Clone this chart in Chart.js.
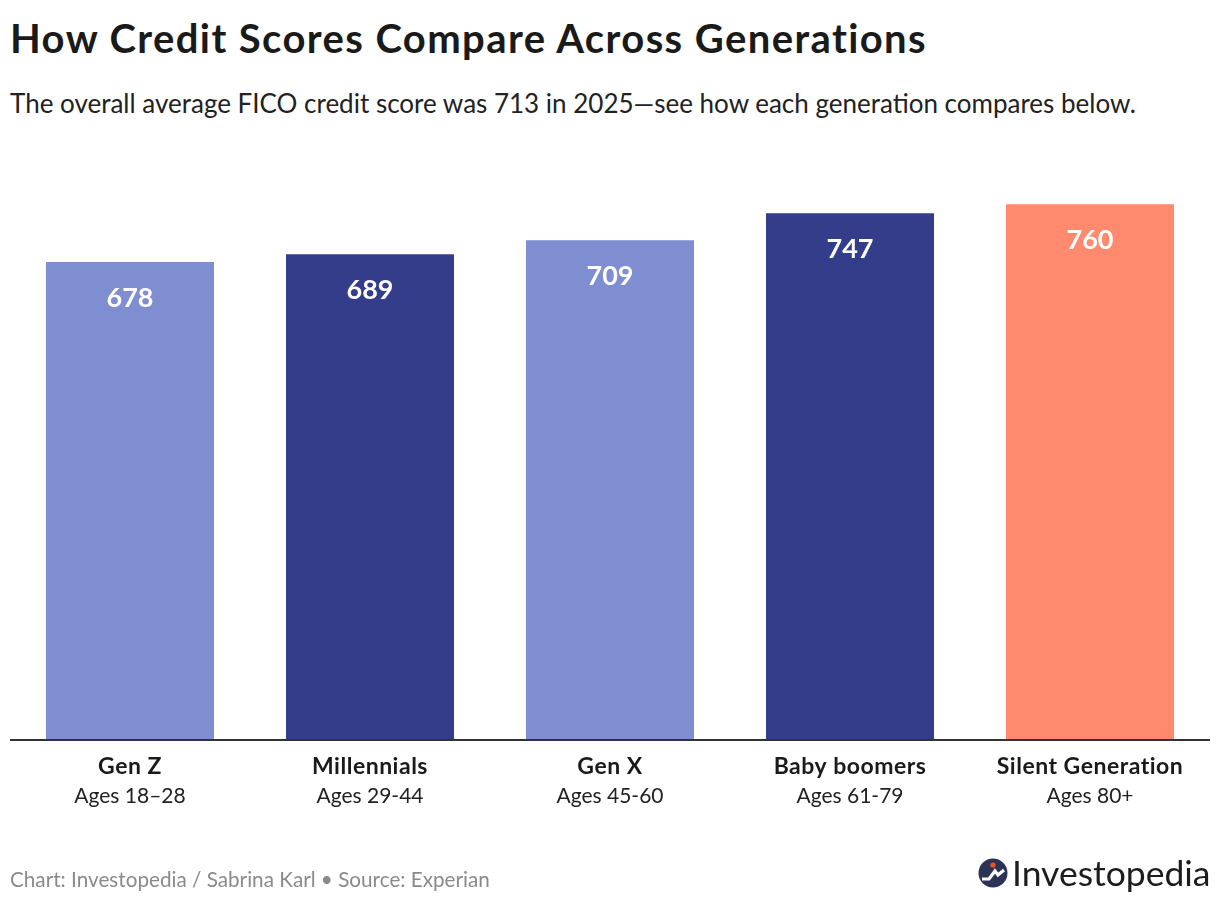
<!DOCTYPE html>
<html>
<head>
<meta charset="utf-8">
<script src="https://cdn.jsdelivr.net/npm/chart.js@4"></script>
<style>
  html, body { margin: 0; padding: 0; background: #fff; }
  body { width: 1220px; height: 902px; position: relative; overflow: hidden; font-family: "Lato", "Open Sans", sans-serif; }
  #title { position: absolute; left: 10px; top: 14px; font-size: 40px; line-height: 48px; font-weight: 700; letter-spacing: 1.4px; color: #1a1a1a; white-space: nowrap; }
  #subtitle { position: absolute; left: 10px; top: 87px; font-size: 26px; line-height: 32px; color: #222; white-space: nowrap; }
  #footer { position: absolute; left: 10px; top: 866px; font-size: 20.7px; line-height: 26px; color: #8a8a8a; white-space: nowrap; }
  #logo { position: absolute; left: 978px; top: 853px; display: flex; align-items: center; }
  #logo span { font-size: 35.5px; color: #1d1d1d; margin-left: 4px; line-height: 40px; }
  #wrap { position: absolute; left: 0; top: 0; width: 1220px; height: 902px; }
</style>
</head>
<body>
<div id="title">How Credit Scores Compare Across Generations</div>
<div id="subtitle">The overall average FICO credit score was 713 in 2025—see how each generation compares below.</div>
<div id="wrap"><canvas id="chart"></canvas></div>
<div id="footer">Chart: Investopedia / Sabrina Karl • Source: Experian</div>
<div id="logo">
  <svg width="30" height="30" viewBox="0 0 30 30">
    <circle cx="15" cy="15" r="14.5" fill="#2c3357"/>
    <polyline points="4,21 11,21 17,13 20,17 26,12" fill="none" stroke="#fff" stroke-width="3.2" stroke-linejoin="miter"/>
    <circle cx="15" cy="7" r="2.6" fill="#f2531f"/>
  </svg>
  <span>Investopedia</span>
</div>
<script>
const generations = ["Gen Z", "Millennials", "Gen X", "Baby boomers", "Silent Generation"];
const ageRanges = ["Ages 18–28", "Ages 29-44", "Ages 45-60", "Ages 61-79", "Ages 80+"];
const scores = [678, 689, 709, 747, 760];
const barColors = ["#7f8dd1", "#333d8a", "#7f8dd1", "#333d8a", "#ff8a6d"];

// baseline, value labels and two-line category labels
const decorations = {
  id: "decorations",
  afterDatasetsDraw(chart) {
    const { ctx, chartArea, scales } = chart;
    const x = scales.x;
    const y = scales.y;
    const base = y.getPixelForValue(0);

    ctx.save();
    ctx.strokeStyle = "#333";
    ctx.lineWidth = 2;
    ctx.beginPath();
    ctx.moveTo(chartArea.left, base);
    ctx.lineTo(chartArea.right, base);
    ctx.stroke();

    ctx.textAlign = "center";
    ctx.textBaseline = "alphabetic";
    scores.forEach((v, i) => {
      const cx = x.getPixelForValue(i);
      ctx.letterSpacing = "0px";
      ctx.fillStyle = "#fff";
      ctx.font = "700 27px Lato";
      ctx.fillText(String(v), cx, y.getPixelForValue(v) + 45);

      ctx.fillStyle = "#1a1a1a";
      ctx.font = "700 23px Lato";
      ctx.letterSpacing = "0.5px";
      ctx.fillText(generations[i], cx, base + 34);
      ctx.letterSpacing = "0px";
      ctx.fillStyle = "#222";
      ctx.font = "400 21px Lato";
      ctx.fillText(ageRanges[i], cx, base + 63);
    });
    ctx.restore();
  }
};

new Chart(document.getElementById("chart"), {
  type: "bar",
  data: {
    labels: generations,
    datasets: [
      {
        data: scores,
        backgroundColor: barColors,
        categoryPercentage: 1,
        barPercentage: 0.7,
      },
    ],
  },
  options: {
    responsive: true,
    maintainAspectRatio: false,
    animation: false,
    layout: { padding: { left: 10, right: 10, top: 176, bottom: 162 } },
    plugins: { legend: { display: false }, tooltip: { enabled: false } },
    scales: {
      x: { display: false },
      y: { display: false, min: 0, max: 800 },
    },
  },
  plugins: [decorations],
});
</script>
</body>
</html>
